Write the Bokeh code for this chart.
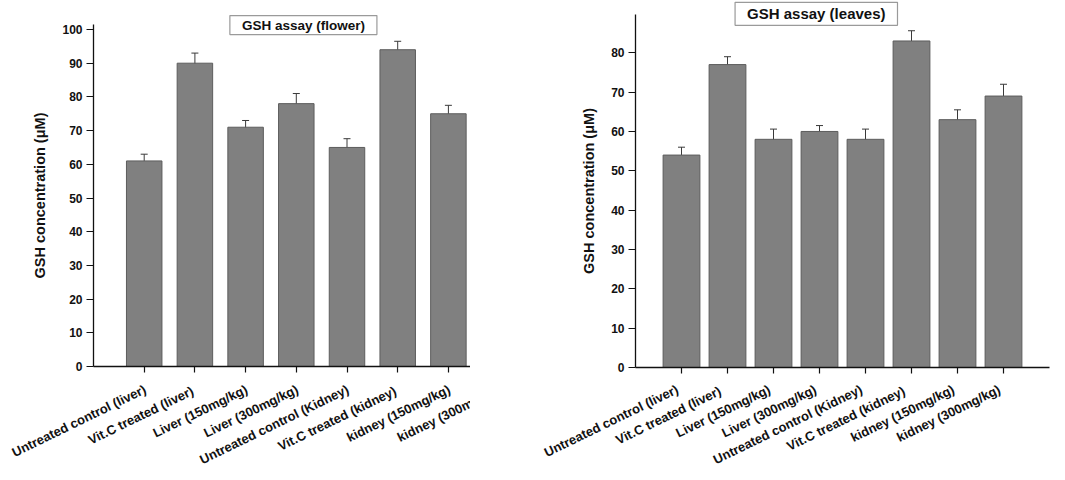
import math
from bokeh.plotting import figure
from bokeh.models import (Range1d, FixedTicker, ColumnDataSource, Whisker, TeeHead,
                          Label, LabelSet)
from bokeh.core.properties import value
from bokeh.layouts import row
from bokeh.embed import file_html
from bokeh.resources import INLINE

categories = [
    "Untreated control (liver)",
    "Vit.C  treated (liver)",
    "Liver (150mg/kg)",
    "Liver (300mg/kg)",
    "Untreated control (Kidney)",
    "Vit.C  treated (kidney)",
    "kidney (150mg/kg)",
    "kidney (300mg/kg)",
]

flower_values = [61, 90, 71, 78, 65, 94, 75]
flower_errors = [2.0, 3.0, 2.0, 3.0, 2.6, 2.5, 2.5]

leaves_values = [54, 77, 58, 60, 58, 83, 63, 69]
leaves_errors = [2.0, 2.0, 2.6, 1.5, 2.6, 2.6, 2.5, 3.0]

flower_yticks = [0, 10, 20, 30, 40, 50, 60, 70, 80, 90, 100]
leaves_yticks = [0, 10, 20, 30, 40, 50, 60, 70, 80]

FONT = "Liberation Sans"
ANGLE = math.radians(26)
INK = "#111111"


def make_chart(values, errors, yticks, title, width, height, x_range, y_range,
               x_axis_end, y_axis_end, bar_w, title_x, title_y, title_size,
               title_pad, cat_dx, cat_dy):
    xs = list(range(1, len(values) + 1))
    src = ColumnDataSource(dict(
        x=xs, top=values,
        upper=[v + e for v, e in zip(values, errors)],
        lower=[v - e for v, e in zip(values, errors)],
    ))
    p = figure(width=width, height=height,
               x_range=Range1d(*x_range), y_range=Range1d(*y_range),
               output_backend="svg", toolbar_location=None,
               min_border=0)
    p.vbar(x="x", top="top", width=bar_w, source=src,
           fill_color="#808080", line_color="#5c5c5c", line_width=1)
    w = Whisker(source=src, base="x", upper="upper", lower="lower",
                line_color="#3a3a3a", line_width=1,
                upper_head=TeeHead(size=7, line_color="#3a3a3a", line_width=1),
                lower_head=TeeHead(size=7, line_color="#3a3a3a", line_width=1))
    p.add_layout(w)

    p.xgrid.visible = False
    p.ygrid.visible = False
    p.outline_line_color = None
    p.background_fill_color = "white"
    p.border_fill_color = "white"

    all_x = list(range(1, len(categories) + 1))
    p.xaxis.fixed_location = 0
    p.xaxis.bounds = (0, x_axis_end)
    p.xaxis.ticker = FixedTicker(ticks=all_x)
    p.xaxis.major_label_text_font_size = "0px"
    p.xaxis.major_label_text_color = None
    p.xaxis.major_tick_in = 0
    p.xaxis.major_tick_out = 6
    p.xaxis.minor_tick_line_color = None

    p.yaxis.fixed_location = 0
    p.yaxis.bounds = (0, y_axis_end)
    p.yaxis.ticker = FixedTicker(ticks=yticks)
    p.yaxis.major_label_text_font = FONT
    p.yaxis.major_label_text_font_style = "bold"
    p.yaxis.major_label_text_font_size = "12px"
    p.yaxis.major_label_text_color = INK
    p.yaxis.major_label_standoff = 4
    p.yaxis.major_tick_in = 0
    p.yaxis.major_tick_out = 7
    p.yaxis.minor_tick_line_color = None
    p.yaxis.axis_label = "GSH concentration (\u03bcM)"
    p.yaxis.axis_label_text_font = FONT
    p.yaxis.axis_label_text_font_style = "bold"
    p.yaxis.axis_label_text_font_size = "14.5px"
    p.yaxis.axis_label_text_color = INK
    p.yaxis.axis_label_standoff = 11

    for ax in (p.xaxis, p.yaxis):
        ax.axis_line_color = INK
        ax.axis_line_width = 1.3
        ax.major_tick_line_color = INK
        ax.major_tick_line_width = 1.2

    # category names under the ticks
    cat_src = ColumnDataSource(dict(x=all_x, y=[0] * len(all_x), text=categories))
    p.add_layout(LabelSet(x="x", y="y", text="text", source=cat_src,
                          angle=ANGLE, text_align="right", text_baseline="middle",
                          x_offset=cat_dx, y_offset=cat_dy,
                          text_font=value(FONT), text_font_style="bold",
                          text_font_size="13px", text_color=INK))

    p.add_layout(Label(x=title_x, y=title_y, text=title, text_align="center",
                       text_baseline="middle", text_font=FONT, text_font_style="bold",
                       text_font_size=title_size, text_color=INK,
                       border_line_color="#9a9a9a", border_line_width=1.2,
                       background_fill_color="white", padding=title_pad))
    return p


# left panel: 50.7 px per category, 3.37 px per unit, origin at (93, 366)
left = make_chart(flower_values, flower_errors, flower_yticks, "GSH assay (flower)",
                  width=470, height=480,
                  x_range=(-93 / 50.7, (470 - 93) / 50.7),
                  y_range=(-(480 - 366) / 3.37, 366 / 3.37),
                  x_axis_end=(470 - 93) / 50.7, y_axis_end=101.5, bar_w=0.7,
                  title_x=4.14, title_y=101.3, title_size="13.5px",
                  title_pad=dict(left=12, right=12, top=2, bottom=2),
                  cat_dx=1, cat_dy=-22)

# right panel: 46 px per category, 3.934 px per unit, origin at (165, 367)
right = make_chart(leaves_values, leaves_errors, leaves_yticks, "GSH assay (leaves)",
                   width=595, height=480,
                   x_range=(-165 / 46, (595 - 165) / 46),
                   y_range=(-(480 - 367) / 3.934, 367 / 3.934),
                   x_axis_end=9.0, y_axis_end=89.7, bar_w=0.8,
                   title_x=3.93, title_y=89.9, title_size="15px",
                   title_pad=dict(left=12, right=12, top=3, bottom=3),
                   cat_dx=-4, cat_dy=-21)

layout = row(left, right)
open("out.html", "w").write(file_html(layout, INLINE))
